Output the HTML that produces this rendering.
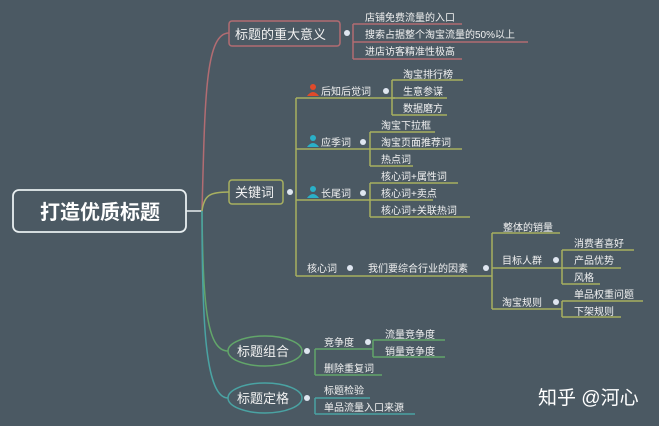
<!DOCTYPE html>
<html><head><meta charset="utf-8"><style>
html,body{margin:0;padding:0;background:#4b5963;}
svg{display:block}
text{font-family:"Liberation Sans","Noto Sans CJK SC",sans-serif;fill:#f2f2f2;font-size:10px;}
</style></head><body>
<svg width="659" height="426" viewBox="0 0 659 426" xmlns="http://www.w3.org/2000/svg">
<rect width="659" height="426" fill="#4b5963"/>
<g fill="none" stroke-width="1.5">
<!-- root -->
<rect x="13" y="190" width="173" height="42" rx="6" stroke="#e8eef0" stroke-width="1.8"/>
<line x1="186" y1="211" x2="202" y2="211" stroke="#e8eef0"/>
<!-- branch curves -->
<path d="M202 211 C205 100 205 33 229 33" stroke="#b26c72"/>
<path d="M202 211 C204 195 210 192 229 192" stroke="#a8b060"/>
<path d="M202 211 C203 300 206 351 228 351" stroke="#62a66a"/>
<path d="M202 211 C202 320 205 398 228 398" stroke="#4aa3a3"/>
<!-- branch 1 -->
<rect x="229" y="21" width="111" height="25" rx="3" stroke="#b26c72"/>
<path d="M353 24 V59 M353 24 H462 M353 42 H528 M353 59 H462" stroke="#b26c72"/>
<!-- branch 2 -->
<rect x="229" y="180" width="54" height="24" rx="3" stroke="#a8b060"/>
<g stroke="#a8b060">
<path d="M296 98 V276 M296 98 H395 M296 149 H370 M296 200 H370 M296 276 H492"/>
<path d="M392 80 V115 M392 80 H463 M392 98 H447 M392 115 H447"/>
<path d="M370 132 V166 M370 132 H435 M370 149 H462 M370 166 H413"/>
<path d="M370 183 V217 M370 183 H458 M370 200 H433 M370 217 H470"/>
<path d="M492 233 V309 M492 233 H560 M492 268 H562 M492 309 H562"/>
<path d="M562 250 V284 M562 250 H634 M562 268 H621 M562 284 H600"/>
<path d="M562 301 V317 M562 301 H643 M562 317 H621"/>
</g>
<!-- branch 3 -->
<ellipse cx="265" cy="351" rx="37" ry="15" stroke="#62a66a"/>
<g stroke="#62a66a">
<path d="M315 349 V375 M315 349 H373 M315 375 H382"/>
<path d="M373 340 V357 M373 340 H445 M373 357 H445"/>
</g>
<!-- branch 4 -->
<ellipse cx="265" cy="398" rx="37" ry="15" stroke="#4aa3a3"/>
<path d="M315 398 V414 M315 398 H370 M315 414 H415" stroke="#4aa3a3"/>
</g>
<!-- dots -->
<g fill="#dfe6f0">
<circle cx="347" cy="33" r="3"/><circle cx="290" cy="192" r="3"/>
<circle cx="386" cy="91" r="3"/><circle cx="363" cy="142" r="3"/><circle cx="363" cy="193" r="3"/>
<circle cx="350" cy="268" r="3"/><circle cx="486" cy="268" r="3"/>
<circle cx="556" cy="260" r="3"/><circle cx="556" cy="302" r="3"/>
<circle cx="307" cy="351" r="3"/><circle cx="368" cy="342" r="3"/><circle cx="307" cy="398" r="3"/>
</g>
<!-- person icons -->
<g><circle cx="313" cy="87" r="3" fill="#e04a2a"/><path d="M307 96 Q313 88 319 96 Z" fill="#e04a2a"/></g>
<g><circle cx="313" cy="138" r="3" fill="#2ab0c8"/><path d="M307 147 Q313 139 319 147 Z" fill="#2ab0c8"/></g>
<g><circle cx="313" cy="189" r="3" fill="#2ab0c8"/><path d="M307 198 Q313 190 319 198 Z" fill="#2ab0c8"/></g>
<!-- texts -->
<text x="100" y="219" text-anchor="middle" style="font-size:20px;font-weight:bold;fill:#fff">打造优质标题</text>
<text x="235" y="39" style="font-size:13px">标题的重大意义</text>
<text x="365" y="21">店铺免费流量的入口</text>
<text x="365" y="38">搜索占据整个淘宝流量的50%以上</text>
<text x="365" y="55">进店访客精准性极高</text>
<text x="235" y="197" style="font-size:13px">关键词</text>
<text x="321" y="95">后知后觉词</text>
<text x="403" y="78">淘宝排行榜</text>
<text x="403" y="95">生意参谋</text>
<text x="403" y="112">数据磨方</text>
<text x="321" y="146">应季词</text>
<text x="381" y="129">淘宝下拉框</text>
<text x="381" y="146">淘宝页面推荐词</text>
<text x="381" y="163">热点词</text>
<text x="321" y="197">长尾词</text>
<text x="381" y="180">核心词+属性词</text>
<text x="381" y="197">核心词+卖点</text>
<text x="381" y="214">核心词+关联热词</text>
<text x="307" y="272">核心词</text>
<text x="368" y="272">我们要综合行业的因素</text>
<text x="503" y="231">整体的销量</text>
<text x="502" y="264">目标人群</text>
<text x="574" y="247">消费者喜好</text>
<text x="574" y="264">产品优势</text>
<text x="574" y="281">风格</text>
<text x="502" y="306">淘宝规则</text>
<text x="574" y="298">单品权重问题</text>
<text x="574" y="315">下架规则</text>
<text x="237" y="356" style="font-size:13px">标题组合</text>
<text x="324" y="346">竞争度</text>
<text x="385" y="338">流量竞争度</text>
<text x="385" y="355">销量竞争度</text>
<text x="324" y="372">删除重复词</text>
<text x="237" y="403" style="font-size:13px">标题定格</text>
<text x="324" y="394">标题检验</text>
<text x="324" y="411">单品流量入口来源</text>
<text x="538" y="404" style="font-size:19px;fill:#fff">知乎 @河心</text>
</svg>
</body></html>
